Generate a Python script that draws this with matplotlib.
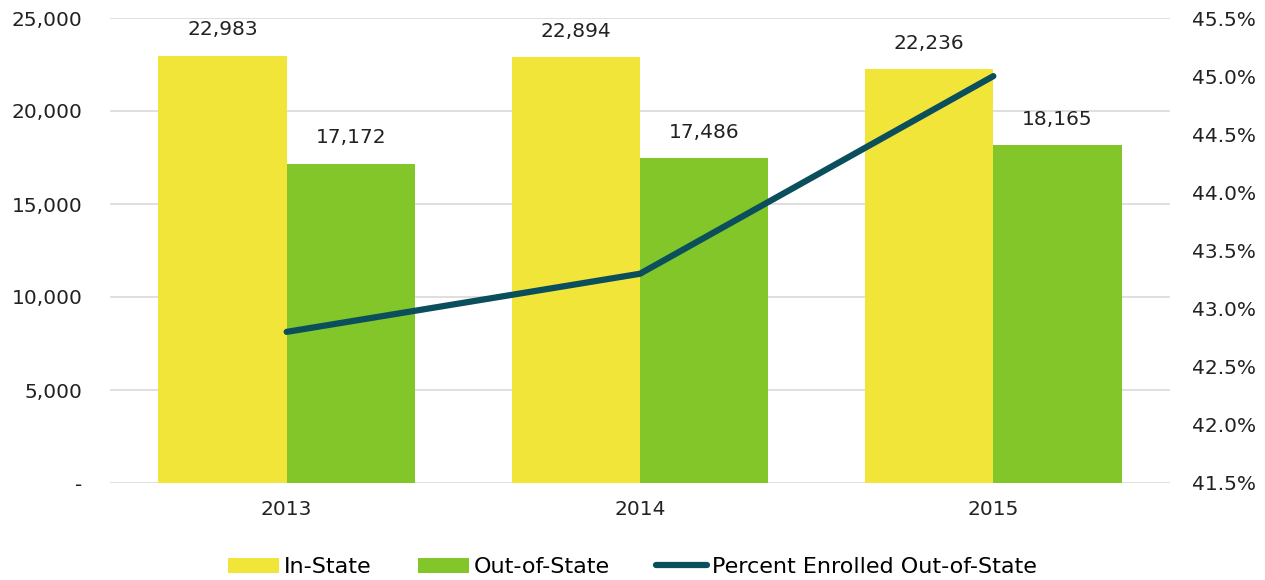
import matplotlib
matplotlib.use("Agg")
import matplotlib.pyplot as plt
import numpy as np
from matplotlib.ticker import FuncFormatter, MultipleLocator

years = ["2013", "2014", "2015"]
in_state = [22983, 22894, 22236]
out_state = [17172, 17486, 18165]
pct_out = [42.8, 43.3, 45.0]

plt.rcParams['font.family'] = ['DejaVu Sans']
fig = plt.figure(figsize=(12.65, 5.8), dpi=100)
ax = fig.add_axes([110/1265, 1-483/580, (1170-110)/1265, (483-18)/580])
ax2 = ax.twinx()

x = np.arange(len(years))
w = 0.363
yellow = "#F2E53A"
green = "#82C62A"
navy = "#0B4F5C"
b1 = ax.bar(x - w/2, in_state, w, color=yellow, label="In-State", zorder=2)
b2 = ax.bar(x + w/2, out_state, w, color=green, label="Out-of-State", zorder=2)
for bars in (b1, b2):
    for r in bars:
        ax.annotate(f"{int(r.get_height()):,}", (r.get_x()+r.get_width()/2, r.get_height()),
                    xytext=(0, 18.5), textcoords="offset points", ha="center", va="center",
                    fontsize=14.5, color="#222222")
ln, = ax2.plot(x, pct_out, color=navy, lw=4.5, solid_capstyle="round", label="Percent Enrolled Out-of-State", zorder=3)

ax.set_xlim(-0.5, 2.5)
ax.set_ylim(0, 25000)
ax.yaxis.set_major_locator(MultipleLocator(5000))
ax.yaxis.set_major_formatter(FuncFormatter(lambda v, p: "-" if v == 0 else f"{int(v):,}"))
ax2.set_ylim(41.5, 45.5)
ax2.yaxis.set_major_locator(MultipleLocator(0.5))
ax2.yaxis.set_major_formatter(FuncFormatter(lambda v, p: f"{v:.1f}%"))
ax.set_xticks(x)
ax.set_xticklabels(years)
ax.grid(axis="y", color="#D9D9D9", lw=1.2, zorder=0)
ax.set_axisbelow(True)
for a in (ax, ax2):
    for s in a.spines.values():
        s.set_visible(False)
    a.tick_params(length=0, labelsize=14.5, colors="#222222")
ax.tick_params(axis="y", pad=20)
ax.tick_params(axis="x", pad=12)
ax2.tick_params(axis="y", pad=16)
ax2.set_zorder(ax.get_zorder()+1)
ax2.patch.set_visible(False)

handles = [b1, b2, ln]
leg = fig.legend(handles, [h.get_label() for h in handles], loc="center", bbox_to_anchor=(0.5, 1-567/580),
                 ncol=3, frameon=False, fontsize=16, handlelength=2.3, handletextpad=0.2, columnspacing=2.1,
                 handleheight=0.65)
fig.savefig("out.png", dpi=100)
